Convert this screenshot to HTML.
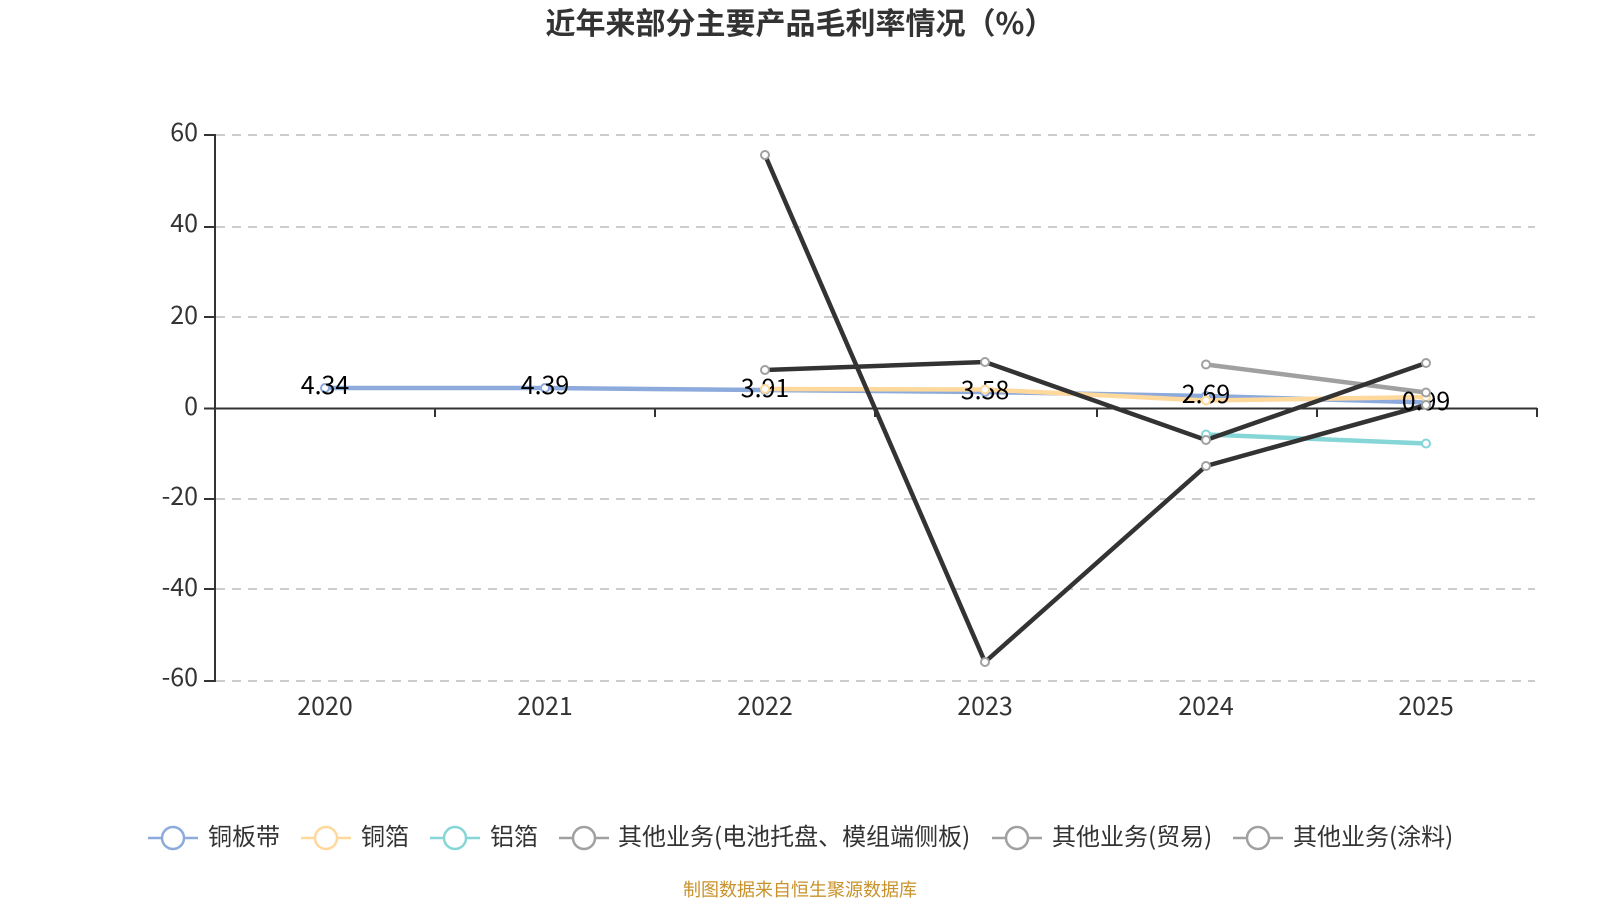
<!DOCTYPE html>
<html><head><meta charset="utf-8"><style>
html,body{margin:0;padding:0;background:#fff}
svg{display:block}
text{font-family:"Noto Sans CJK SC","Liberation Sans",sans-serif}
</style></head><body>
<svg width="1600" height="900" viewBox="0 0 1600 900" xmlns="http://www.w3.org/2000/svg">
<rect width="1600" height="900" fill="#fff"/>
<text x="800" y="34" font-size="30" font-weight="700" fill="#333" text-anchor="middle">近年来部分主要产品毛利率情况（%）</text>

<g stroke="#ccc" stroke-width="2" stroke-dasharray="9 7">
<line x1="216" x2="1535" y1="135" y2="135"/>
<line x1="216" x2="1535" y1="227" y2="227"/>
<line x1="216" x2="1535" y1="317" y2="317"/>
<line x1="216" x2="1535" y1="499" y2="499"/>
<line x1="216" x2="1535" y1="589" y2="589"/>
<line x1="216" x2="1535" y1="681" y2="681"/>
</g>

<g stroke="#333" stroke-width="2" fill="none">
<line x1="215" x2="215" y1="134" y2="682"/>
<line x1="204" x2="215" y1="135" y2="135"/>
<line x1="204" x2="215" y1="227" y2="227"/>
<line x1="204" x2="215" y1="317" y2="317"/>
<line x1="204" x2="215" y1="408.5" y2="408.5"/>
<line x1="204" x2="215" y1="499" y2="499"/>
<line x1="204" x2="215" y1="589" y2="589"/>
<line x1="204" x2="215" y1="681" y2="681"/>
<line x1="215" x2="1537" y1="408.5" y2="408.5"/>
<line x1="435" x2="435" y1="408" y2="417"/>
<line x1="655" x2="655" y1="408" y2="417"/>
<line x1="875" x2="875" y1="408" y2="417"/>
<line x1="1097" x2="1097" y1="408" y2="417"/>
<line x1="1317" x2="1317" y1="408" y2="417"/>
<line x1="1537" x2="1537" y1="408" y2="417"/>
</g>

<g font-size="25" fill="#333" text-anchor="end">
<text x="198" y="141">60</text>
<text x="198" y="232">40</text>
<text x="198" y="324">20</text>
<text x="198" y="415">0</text>
<text x="198" y="505">-20</text>
<text x="198" y="596">-40</text>
<text x="198" y="686">-60</text>
</g>
<g font-size="25" fill="#333" text-anchor="middle">
<text x="325" y="715">2020</text>
<text x="545" y="715">2021</text>
<text x="765" y="715">2022</text>
<text x="985" y="715">2023</text>
<text x="1206" y="715">2024</text>
<text x="1426" y="715">2025</text>
</g>

<!-- blue -->
<polyline points="325,388 545,388 765,390 985,392 1206,396 1426,402.5" fill="none" stroke="#8cabdc" stroke-width="4.5"/>
<g fill="#fff" stroke="#8cabdc" stroke-width="2">
<circle cx="325" cy="388" r="4"/><circle cx="545" cy="388" r="4"/><circle cx="765" cy="390" r="4"/><circle cx="985" cy="392" r="4"/><circle cx="1206" cy="396" r="4"/><circle cx="1426" cy="402.5" r="4"/>
</g>
<!-- orange -->
<polyline points="765,389 985,389.5 1206,400.5 1426,397" fill="none" stroke="#ffd89c" stroke-width="4.5"/>
<!-- teal -->
<polyline points="1206,434.5 1426,443.5" fill="none" stroke="#86d6d8" stroke-width="4.5"/>
<!-- light grey -->
<polyline points="1206,364.5 1426,392.5" fill="none" stroke="#a0a0a0" stroke-width="4.5"/>
<!-- dark -->
<polyline points="765,370 985,362 1206,440 1426,363" fill="none" stroke="#333" stroke-width="4.5"/>
<polyline points="765,155 985,662 1206,466 1426,405" fill="none" stroke="#333" stroke-width="4.5"/>

<g font-size="25" fill="#000" text-anchor="middle">
<text x="325" y="394">4.34</text>
<text x="545" y="394">4.39</text>
<text x="765" y="397">3.91</text>
<text x="985" y="399">3.58</text>
<text x="1206" y="403">2.69</text>
<text x="1426" y="410">0.99</text>
</g>

<g fill="#fff" stroke="#ffd89c" stroke-width="2">
<circle cx="765" cy="389" r="4"/><circle cx="985" cy="389.5" r="4"/><circle cx="1206" cy="400.5" r="4"/><circle cx="1426" cy="397" r="4"/>
</g>
<g fill="#fff" stroke="#86d6d8" stroke-width="2">
<circle cx="1206" cy="434.5" r="4"/><circle cx="1426" cy="443.5" r="4"/>
</g>
<g fill="#fff" stroke="#a0a0a0" stroke-width="2">
<circle cx="1206" cy="364.5" r="4"/><circle cx="1426" cy="392.5" r="4"/>
<circle cx="765" cy="370" r="4"/><circle cx="985" cy="362" r="4"/><circle cx="1206" cy="440" r="4"/><circle cx="1426" cy="363" r="4"/>
<circle cx="765" cy="155" r="4"/><circle cx="985" cy="662" r="4"/><circle cx="1206" cy="466" r="4"/><circle cx="1426" cy="405" r="4"/>
</g>

<!-- legend -->
<g stroke-width="2.5" fill="#fff">
<g stroke="#8cabdc"><line x1="148" x2="198" y1="838" y2="838"/><circle cx="173" cy="838" r="11"/></g>
<g stroke="#ffd89c"><line x1="301" x2="351" y1="838" y2="838"/><circle cx="326" cy="838" r="11"/></g>
<g stroke="#86d6d8"><line x1="430" x2="480" y1="838" y2="838"/><circle cx="455" cy="838" r="11"/></g>
<g stroke="#a0a0a0"><line x1="559" x2="609" y1="838" y2="838"/><circle cx="584" cy="838" r="11"/></g>
<g stroke="#a0a0a0"><line x1="992" x2="1042" y1="838" y2="838"/><circle cx="1017" cy="838" r="11"/></g>
<g stroke="#a0a0a0"><line x1="1233" x2="1283" y1="838" y2="838"/><circle cx="1258" cy="838" r="11"/></g>
</g>
<g font-size="24" fill="#333">
<text x="208" y="845">铜板带</text>
<text x="361" y="845">铜箔</text>
<text x="490" y="845">铝箔</text>
<text x="618" y="845">其他业务(电池托盘、模组端侧板)</text>
<text x="1052" y="845">其他业务(贸易)</text>
<text x="1293" y="845">其他业务(涂料)</text>
</g>
<text x="800" y="896" font-size="18" fill="#c8922a" text-anchor="middle">制图数据来自恒生聚源数据库</text>
</svg>
</body></html>
